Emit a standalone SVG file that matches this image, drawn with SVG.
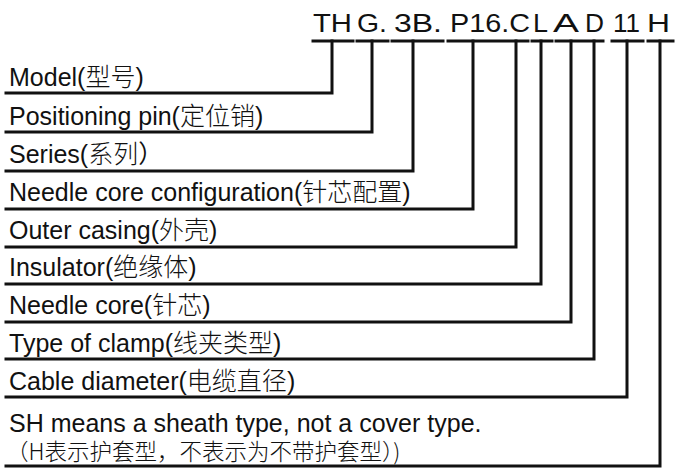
<svg xmlns="http://www.w3.org/2000/svg" width="676" height="473" viewBox="0 0 676 473">
<style>
.t{font-family:"Liberation Sans","Noto Sans CJK SC",sans-serif;font-size:25px;fill:#111}
.c{font-family:"Liberation Sans",sans-serif;font-size:25px;fill:#111}
.z{font-family:"Noto Sans CJK SC",sans-serif;font-weight:300}
.ln{stroke:#111;stroke-width:3;fill:none;stroke-linecap:square}
</style>
<rect width="676" height="473" fill="#fff"/>
<g id="code">
<text class="c" x="313" y="32" textLength="39" lengthAdjust="spacingAndGlyphs">TH</text>
<text class="c" x="357" y="32" textLength="30" lengthAdjust="spacingAndGlyphs">G.</text>
<text class="c" x="394" y="32" textLength="48" lengthAdjust="spacingAndGlyphs">3B.</text>
<text class="c" x="450" y="32" textLength="80" lengthAdjust="spacingAndGlyphs">P16.C</text>
<text class="c" x="533" y="32" textLength="15" lengthAdjust="spacingAndGlyphs">L</text>
<text class="c" x="553" y="32" textLength="26" lengthAdjust="spacingAndGlyphs">A</text>
<text class="c" x="585" y="32" textLength="19" lengthAdjust="spacingAndGlyphs">D</text>
<text class="c" x="613" y="32" textLength="27" lengthAdjust="spacingAndGlyphs">11</text>
<text class="c" x="647" y="32" textLength="23" lengthAdjust="spacingAndGlyphs">H</text>
</g>
<g id="connectors" class="ln">
<path d="M313 41H353M357 41H388M392 41H443M448 41H502M504 41H528M532 41H552M556 41H582M585 41H603M612 41H643M648 41H673"/>
<path d="M6 93H332V41"/>
<path d="M6 132H372V41"/>
<path d="M6 171H413V41"/>
<path d="M6 209H473V41"/>
<path d="M6 247H516V41"/>
<path d="M6 284H541V41"/>
<path d="M6 322H571V41"/>
<path d="M6 359H594V41"/>
<path d="M6 397H627V41"/>
<path d="M6 466H660V41"/>
</g>
<g id="model"><text class="t" x="9" y="86">Model(<tspan class="z">型号</tspan>)</text></g>
<g id="pin"><text class="t" x="9" y="125">Positioning pin(<tspan class="z">定位销</tspan>)</text></g>
<g id="series"><text class="t" x="9" y="163">Series(<tspan class="z">系列</tspan>）</text></g>
<g id="config"><text class="t" x="9" y="201">Needle core configuration(<tspan class="z">针芯配置</tspan>)</text></g>
<g id="casing"><text class="t" x="9" y="239">Outer casing(<tspan class="z">外壳</tspan>)</text></g>
<g id="insulator"><text class="t" x="9" y="276">Insulator(<tspan class="z">绝缘体</tspan>)</text></g>
<g id="core"><text class="t" x="9" y="314">Needle core(<tspan class="z">针芯</tspan>)</text></g>
<g id="clamp"><text class="t" x="9" y="352">Type of clamp(<tspan class="z">线夹类型</tspan>)</text></g>
<g id="cable"><text class="t" x="9" y="390">Cable diameter(<tspan class="z">电缆直径</tspan>)</text></g>
<g id="sheath">
<text class="t" x="9" y="432">SH means a sheath type, not a cover type.</text>
<text class="t z" x="6" y="460" style="font-size:22.5px">（H表示护套型，不表示为不带护套型）)</text>
</g>
</svg>
